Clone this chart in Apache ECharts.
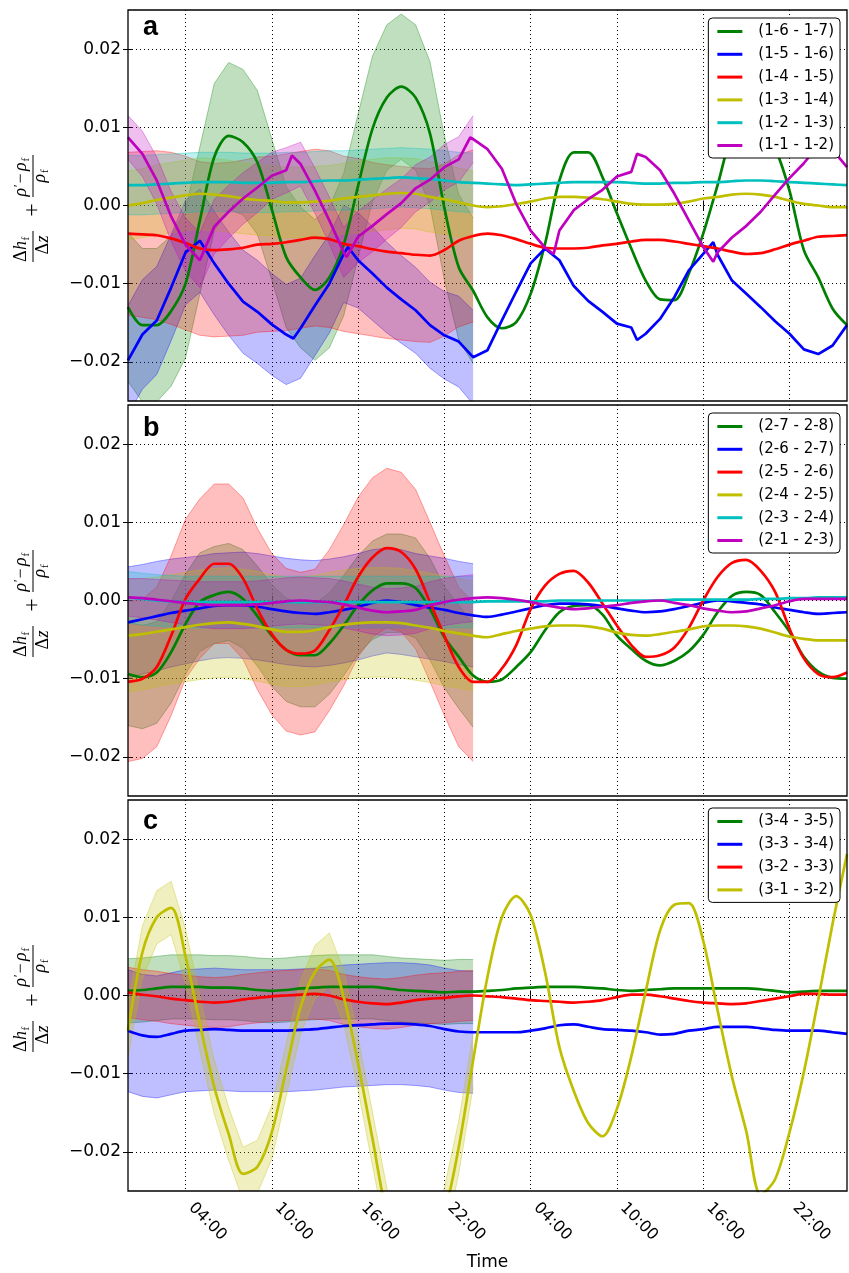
<!DOCTYPE html>
<html><head><meta charset="utf-8">
<script src="https://cdn.jsdelivr.net/npm/echarts@6/dist/echarts.min.js"></script>
<style>html,body{margin:0;padding:0;background:#fff}#c{width:849px;height:1273px}</style>
</head><body><div id="c"></div>
<script>
// ---------- time axis (hours since start) ----------
const hours = [...Array(51).keys()];          // 0 .. 50 h
const bandHours = [...Array(25).keys()];      // 0 .. 24 h (shaded spread shown for first day)
const tickHours = [4, 10, 16, 22, 28, 34, 40, 46];
const yTicks = [-20, -10, 0, 10, 20];         // units of 1e-3

// ---------- panel a (values in 1e-3) ----------
const aNames = ['(1-6 - 1-7)', '(1-5 - 1-6)', '(1-4 - 1-5)', '(1-3 - 1-4)', '(1-2 - 1-3)', '(1-1 - 1-2)'];
const aGreen = [-13.0,-15.3,-15.3,-13.5,-10.0,-1.9,6.2,8.9,8.1,5.5, -0.5,-6.6,-9.2,-10.8,-9.2,-5.0,2.5,9.8,13.8,15.2, 13.8,9.2,-0.3,-7.9,-10.9,-14.3,-15.7,-14.9,-11.3,-4.9, 3.2,6.8,6.8,3.6,-1.0,-5.5,-9.6,-12.0,-12.1,-8.7, -3.6,2.6,9.0,11.0,10.8,7.4,1.9,-5.7,-9.2,-13.2,-15.3];
const aBlueT = [0,1,2,3,4,5,6,7,8,9,10,11,11.5,12,13,14,15,15.3,16,17,18,19,20,21,22,23,24,25,26,27,28,29,30,31,32,33,34,35,35.4,36,37,38,39,40,40.7,41,42,43,44,45,46,47,48,49,50];
const aBlue = [-19.8,-16.5,-14.7,-10.5,-6.0,-4.5,-7.4,-10.0,-12.3,-13.6,-15.2,-16.5,-17.0,-15.7,-12.8,-10.0,-6.2,-5.3,-7.0,-8.7,-10.5,-12.0,-13.4,-15.3,-16.6,-17.4,-19.4,-18.5,-14.7,-11.0,-7.4,-5.5,-7.0,-10.3,-12.2,-13.6,-15.1,-15.6,-17.2,-16.4,-14.5,-11.7,-8.3,-6.2,-4.7,-6.3,-9.6,-11.3,-13.0,-14.8,-16.4,-18.4,-19.0,-17.9,-15.3];
const aRed = [-3.6,-3.7,-3.8,-4.2,-4.8,-5.5,-5.7,-5.6,-5.4,-5.0, -4.9,-4.7,-4.4,-4.1,-4.3,-4.9,-5.2,-5.6,-5.9,-6.1, -6.3,-6.4,-5.7,-4.5,-3.9,-3.6,-3.8,-4.3,-4.9,-5.4, -5.5,-5.5,-5.4,-5.1,-4.9,-4.6,-4.4,-4.4,-4.6,-4.9, -5.2,-5.5,-5.9,-6.2,-6.1,-5.6,-5.0,-4.5,-4.0,-3.9,-3.8];
const aYellow = [0.0,0.3,0.7,1.0,1.3,1.5,1.4,1.2,0.9,0.7, 0.6,0.4,0.4,0.5,0.6,0.9,1.1,1.3,1.5,1.6, 1.5,1.1,0.8,0.4,0.0,-0.2,-0.1,0.2,0.5,0.9, 1.1,1.1,1.0,0.8,0.5,0.2,0.1,0.1,0.2,0.5, 0.9,1.1,1.4,1.5,1.4,1.1,0.6,0.2,0.0,-0.2,-0.2];
const aCyan = [2.6,2.6,2.7,2.8,2.9,3.0,3.0,3.0,2.9,2.9, 2.9,3.0,3.0,3.1,3.2,3.2,3.3,3.4,3.5,3.6, 3.5,3.4,3.2,3.0,2.9,2.8,2.7,2.6,2.7,2.8, 2.9,3.0,3.0,3.0,3.0,2.9,2.8,2.8,2.9,2.9, 3.0,3.0,3.1,3.2,3.2,3.1,3.0,2.9,2.8,2.7,2.6];
const aMagT = [0,1,2,3,4,5,6,7,8,9,10,11,11.4,12,13,14,15,15.2,16,17,18,19,20,21,22,23,23.8,24,25,26,27,28,29,29.6,30,31,32,33,34,35,35.4,36,37,38,39,40,40.7,41,42,43,44,45,46,47,48,49,50];
const aMag = [8.7,6.6,3.2,-1.4,-5.0,-7.0,-2.7,-0.8,0.9,2.3,3.8,4.5,6.4,5.3,1.9,-1.9,-6.0,-6.6,-4.0,-2.6,-1.1,0.3,2.2,3.3,4.9,5.9,8.7,8.5,7.2,4.7,0.2,-3.2,-5.4,-6.2,-3.2,-0.6,0.8,2.0,3.7,4.3,6.6,6.2,4.5,1.5,-1.9,-5.3,-7.2,-6.0,-4.1,-2.6,-0.8,1.4,3.5,5.4,7.7,7.1,4.9];
// spread (half width of shaded band), hours 0..24
const aGreenSd  = [9.5,9.8,9.8,9.6,9.5,9.4,9.4,9.4,9.3,9.2,9.0,9.0,9.0,9.0,9.0,9.1,9.2,9.3,9.3,9.3,9.3,9.2,9.2,9.3,9.3];
const aBlueSd   = [7.0,7.0,6.9,6.8,6.7,6.6,6.6,6.6,6.6,6.6,6.5,6.4,6.4,6.4,6.3,6.2,6.1,6.0,5.8,5.6,5.5,5.5,5.6,5.8,6.0];
const aRedSd    = [10.4,10.6,10.8,11.0,11.1,11.1,11.1,11.1,11.2,11.2,11.2,11.3,11.3,11.3,11.3,11.2,11.2,11.1,11.1,11.1,11.1,11.1,11.0,11.0,11.0];
const aYellowSd = [4.4,4.4,4.5,4.5,4.5,4.6,4.6,4.6,4.5,4.5,4.5,4.5,4.5,4.5,4.5,4.5,4.6,4.6,4.6,4.5,4.5,4.5,4.4,4.4,4.4];
const aCyanSd   = [3.8,3.8,3.8,3.8,3.8,3.8,3.8,3.8,3.8,3.8,3.8,3.8,3.8,3.8,3.8,3.8,3.8,3.8,3.8,3.8,3.8,3.8,3.8,3.8,3.8];
const aMagSd    = [2.8,2.9,3.0,3.2,3.4,3.5,3.5,3.4,3.3,3.2,3.0,2.9,2.8,2.9,3.0,3.2,3.3,3.3,3.2,3.1,3.0,2.9,2.9,2.9,3.0];

// ---------- panel b ----------
const bNames = ['(2-7 - 2-8)', '(2-6 - 2-7)', '(2-5 - 2-6)', '(2-4 - 2-5)', '(2-3 - 2-4)', '(2-1 - 2-3)'];
const bGreen = [-9.4,-9.8,-9.2,-6.6,-3.0,-0.2,0.7,1.1,0.2,-2.0, -4.5,-6.3,-7.0,-7.0,-5.5,-3.2,-0.6,1.3,2.2,2.2, 1.6,-1.1,-4.7,-7.2,-9.6,-10.4,-10.1,-8.5,-6.6,-3.8, -1.5,-0.7,-0.6,-1.8,-4.5,-6.2,-7.7,-8.3,-7.7,-6.5, -4.4,-1.5,0.6,1.1,0.7,-1.5,-4.0,-7.2,-9.1,-9.9,-10.0];
const bBlue = [-2.8,-2.4,-2.0,-1.6,-1.3,-1.0,-0.7,-0.6,-0.6,-0.8, -1.1,-1.4,-1.6,-1.7,-1.5,-1.2,-0.8,-0.3,0.0,-0.2, -0.6,-0.9,-1.2,-1.6,-1.9,-2.1,-1.8,-1.4,-1.0,-0.6, -0.4,-0.4,-0.5,-0.7,-1.0,-1.3,-1.5,-1.4,-1.1,-0.7, -0.3,0.0,-0.1,-0.3,-0.5,-0.9,-1.2,-1.5,-1.7,-1.6,-1.5];
const bRed = [-10.4,-10.0,-8.5,-4.5,0.2,2.8,4.7,4.7,2.8,-1.1, -4.3,-6.3,-6.8,-6.4,-3.8,-0.6,3.0,5.5,6.7,6.2, 4.0,-0.2,-4.5,-8.5,-10.4,-10.4,-8.7,-5.7,-1.1,1.9, 3.4,3.8,2.3,-0.4,-3.2,-5.7,-7.2,-7.0,-6.0,-3.5, 0.0,3.0,4.8,5.2,3.8,1.1,-3.6,-7.4,-9.4,-9.8,-9.2];
const bYellow = [-4.5,-4.3,-4.0,-3.7,-3.4,-3.1,-2.9,-2.8,-3.0,-3.3, -3.7,-4.0,-4.0,-3.8,-3.4,-3.1,-2.9,-2.8,-2.8,-2.9, -3.2,-3.5,-3.9,-4.2,-4.5,-4.7,-4.3,-3.9,-3.6,-3.3, -3.2,-3.2,-3.3,-3.6,-4.1,-4.4,-4.5,-4.3,-4.0,-3.7, -3.3,-3.2,-3.2,-3.3,-3.6,-4.1,-4.6,-4.9,-5.1,-5.1,-5.1];
const bCyan = [0.4,0.2,0.0,-0.1,-0.2,-0.2,-0.2,-0.2,-0.2,-0.2, -0.2,-0.2,-0.2,-0.2,-0.2,-0.2,-0.2,-0.2,-0.2,-0.2, -0.2,-0.2,-0.2,-0.2,-0.2,-0.1,-0.1,-0.1,-0.1,-0.1, 0.0,0.0,0.0,0.0,0.0,0.0,0.0,0.0,0.1,0.1, 0.1,0.1,0.1,0.1,0.2,0.2,0.3,0.3,0.4,0.4,0.4];
const bMag = [0.4,0.3,0.1,-0.1,-0.3,-0.5,-0.6,-0.6,-0.6,-0.5, -0.3,-0.1,0.0,-0.1,-0.2,-0.5,-0.9,-1.3,-1.5,-1.4, -1.2,-0.6,-0.2,0.1,0.3,0.4,0.3,0.1,-0.2,-0.6, -0.9,-1.1,-1.0,-0.8,-0.6,-0.3,-0.1,0.0,-0.3,-0.6, -1.0,-1.3,-1.5,-1.4,-1.0,-0.6,-0.1,0.2,0.2,0.2,0.2];
const bGreenSd  = [6.6,6.6,6.5,6.5,6.4,6.3,6.2,6.2,6.3,6.4,6.5,6.6,6.6,6.6,6.5,6.4,6.3,6.3,6.3,6.3,6.4,6.5,6.5,6.6,6.6];
const bBlueSd   = [7.1,7.0,7.0,6.9,6.8,6.7,6.7,6.7,6.8,6.8,6.8,6.8,6.8,6.8,6.8,6.8,6.8,6.8,6.7,6.7,6.6,6.6,6.6,6.6,6.6];
const bRedSd    = [10.2,10.2,10.2,10.2,10.2,10.2,10.2,10.2,10.3,10.3,10.3,10.4,10.4,10.4,10.3,10.3,10.2,10.2,10.2,10.2,10.2,10.2,10.2,10.2,10.2];
const bYellowSd = [7.2,7.1,7.0,7.0,7.0,7.0,7.0,7.0,7.0,7.0,7.0,7.0,7.0,7.0,7.0,7.0,7.0,7.0,7.0,7.0,7.0,7.0,7.0,7.0,7.0];
const bCyanSd   = [3.3,3.3,3.3,3.3,3.3,3.3,3.3,3.3,3.3,3.3,3.3,3.3,3.3,3.3,3.3,3.3,3.3,3.3,3.3,3.3,3.3,3.3,3.3,3.3,3.3];
const bMagSd    = [2.4,2.5,2.6,2.7,2.8,2.9,3.0,3.0,3.0,3.0,3.0,3.0,3.0,3.0,3.0,3.0,3.0,3.0,3.0,3.0,3.0,3.0,3.0,3.0,3.0];

// ---------- panel c ----------
const cNames = ['(3-4 - 3-5)', '(3-3 - 3-4)', '(3-2 - 3-3)', '(3-1 - 3-2)'];
const cGreen = [0.6,0.7,0.9,1.1,1.1,1.1,1.0,1.0,0.9,0.7, 0.6,0.7,0.9,1.0,1.1,1.1,1.1,1.1,0.9,0.7, 0.6,0.5,0.4,0.5,0.5,0.6,0.7,0.9,1.0,1.1, 1.1,1.1,1.0,0.9,0.7,0.6,0.7,0.8,0.9,0.9, 0.9,0.9,0.9,0.9,0.8,0.6,0.4,0.5,0.6,0.6,0.6];
const cBlue = [-4.5,-5.1,-5.3,-4.9,-4.5,-4.4,-4.3,-4.4,-4.5,-4.5, -4.5,-4.5,-4.4,-4.3,-4.1,-3.9,-3.8,-3.7,-3.6,-3.6, -3.7,-3.9,-4.3,-4.6,-4.7,-4.7,-4.7,-4.7,-4.5,-4.2, -3.8,-3.7,-4.0,-4.3,-4.4,-4.5,-4.7,-5.0,-4.9,-4.5, -4.3,-4.0,-4.0,-4.0,-4.2,-4.4,-4.5,-4.5,-4.5,-4.7,-4.9];
const cRed = [0.4,0.1,-0.1,-0.4,-0.6,-0.8,-0.9,-0.8,-0.5,-0.3, -0.1,0.0,0.1,0.2,0.0,-0.5,-0.8,-1.0,-1.1,-0.9, -0.6,-0.4,-0.3,-0.1,0.0,-0.1,-0.2,-0.4,-0.6,-0.7, -0.8,-0.9,-0.8,-0.6,-0.2,0.1,0.1,-0.1,-0.4,-0.7, -0.9,-1.0,-1.1,-1.0,-0.7,-0.4,-0.1,0.2,0.2,0.1,0.1];
const cYellow = [-4.5,5.5,10.0,11.2,5.0,-3.6,-11.7,-17.7,-22.8,-21.9, -17.5,-9.5,-1.5,3.0,4.6,-0.2,-8.7,-18.3,-28.0,-33.0, -35.0,-33.0,-28.0,-19.4,-8.3,2.4,10.0,12.7,10.3,3.0, -6.6,-12.2,-16.3,-18.0,-14.5,-7.8,0.5,8.3,11.6,11.8, 7.0,-1.9,-10.4,-17.4,-25.5,-23.5,-17.5,-9.8,-0.5,9.2,18.1];
const cGreenSd  = [4.1,4.1,4.1,4.1,4.1,4.1,4.1,4.1,4.1,4.1,4.1,4.1,4.1,4.1,4.1,4.1,4.1,4.1,4.1,4.1,4.1,4.1,4.1,4.1,4.1];
const cBlueSd   = [7.8,7.8,7.8,7.8,7.8,7.8,7.8,7.8,7.8,7.8,7.8,7.8,7.8,7.8,7.8,7.8,7.8,7.8,7.8,7.8,7.8,7.8,7.8,7.8,7.8];
const cRedSd    = [3.2,3.2,3.2,3.2,3.2,3.2,3.2,3.2,3.2,3.2,3.2,3.2,3.2,3.2,3.2,3.2,3.2,3.2,3.2,3.2,3.2,3.2,3.2,3.2,3.2];
const cYellowSd = [3.4,3.4,3.4,3.4,3.5,3.5,3.5,3.4,3.4,3.4,3.4,3.4,3.4,3.4,3.4,3.4,3.4,3.4,3.4,3.4,3.4,3.4,3.4,3.4,3.4];

// ---------- styling ----------
const G = '#008000', B = '#0000ff', R = '#ff0000', Y = '#bfbf00', C = '#00bfbf', M = '#bf00bf';
// [name, colour, times, values, spread, smooth-rendering]
const panels = [
  { top: 10, letter: 'a', base: 37, series: [
    [aNames[0], G, hours, aGreen, aGreenSd, true], [aNames[1], B, aBlueT, aBlue, aBlueSd, false],
    [aNames[2], R, hours, aRed, aRedSd, true], [aNames[3], Y, hours, aYellow, aYellowSd, true],
    [aNames[4], C, hours, aCyan, aCyanSd, true], [aNames[5], M, aMagT, aMag, aMagSd, false]] },
  { top: 405, letter: 'b', base: 438, series: [
    [bNames[0], G, hours, bGreen, bGreenSd, true], [bNames[1], B, hours, bBlue, bBlueSd, true],
    [bNames[2], R, hours, bRed, bRedSd, true], [bNames[3], Y, hours, bYellow, bYellowSd, true],
    [bNames[4], C, hours, bCyan, bCyanSd, true], [bNames[5], M, hours, bMag, bMagSd, true]] },
  { top: 800, letter: 'c', base: 831, series: [
    [cNames[0], G, hours, cGreen, cGreenSd, true], [cNames[1], B, hours, cBlue, cBlueSd, true],
    [cNames[2], R, hours, cRed, cRedSd, true], [cNames[3], Y, hours, cYellow, cYellowSd, true]] }
];
const PH = 391;
const FONT = 'DejaVu Sans';
const gridLine = { show: true, lineStyle: { color: '#000', width: 1, type: [1, 3] } };
const fmtHour = v => String(v % 24).padStart(2, '0') + ':00';
const fmtY = v => (v < 0 ? '\u2212' : '') + (Math.abs(v) / 1000).toFixed(2);

const option = { animation: false, backgroundColor: '#fff', grid: [], xAxis: [], yAxis: [], series: [], legend: [], graphic: { elements: [] } };

function yLabelGroup(dy) {
  const SER = '"Liberation Serif","DejaVu Serif",serif';
  const T = (text, x, base, size, italic, align) => ({
    type: 'text', x: x, y: base - 0.34 * size,
    style: { text: text, fontFamily: SER, fontSize: size, fontStyle: italic ? 'italic' : 'normal', fill: '#000', verticalAlign: 'middle', align: align || 'left' }
  });
  const bar = (x0, x1) => ({ type: 'rect', shape: { x: x0, y: -0.5, width: x1 - x0, height: 1 }, style: { fill: '#000' } });
  return {
    type: 'group', x: 33, y: 262 + dy, rotation: Math.PI / 2,
    children: [
      T('\u0394', 0, -6, 18, false), T('h', 12, -6, 18, true), T('f', 21.5, -3, 11, false),
      bar(0, 31),
      T('\u0394', 7.5, 16, 18, false), T('z', 19.5, 16, 18, true),
      { type: 'text', x: 52, y: 0, style: { text: '+', fontFamily: SER, fontSize: 24, fill: '#000', align: 'center', verticalAlign: 'middle' } },
      T('\u03C1', 65.5, -6, 18, true), T('\u2032', 75, -10, 12, false), T('\u2212', 78.5, -6, 18, false),
      T('\u03C1', 91, -6, 18, true), T('f', 100.5, -3, 11, false),
      bar(65, 107),
      T('\u03C1', 79.5, 13, 18, true), T('f', 89, 16, 11, false)
    ]
  };
}

function bandSeries(p, col, T, V, SD) {
  const rows = bandHours.map((h, i) => {
    const m = V[T.indexOf(h)];
    return [h, m - SD[i], m + SD[i]];
  });
  return {
    type: 'custom', xAxisIndex: 2 * p, yAxisIndex: 2 * p, silent: true, z: 1, clip: true,
    data: rows, encode: { x: 0, y: [1, 2] },
    renderItem: (params, api) => {
      if (params.dataIndex !== 0) return null;
      const up = rows.map(r => api.coord([r[0], r[2]]));
      const dn = rows.map(r => api.coord([r[0], r[1]]));
      return {
        type: 'group', children: [
          { type: 'polygon', shape: { points: up.concat(dn.slice().reverse()) }, style: { fill: col, opacity: 0.25 } },
          { type: 'polyline', shape: { points: up }, style: { stroke: col, fill: null, lineWidth: 1, opacity: 0.35 } },
          { type: 'polyline', shape: { points: dn }, style: { stroke: col, fill: null, lineWidth: 1, opacity: 0.35 } }
        ]
      };
    }
  };
}

panels.forEach((P, p) => {
  option.grid.push({ left: 128, right: 2, top: P.top, height: PH, show: true, borderColor: '#000', borderWidth: 1.3, backgroundColor: 'transparent', z: 5 });
  const tickStyle = { show: true, inside: true, length: 5, lineStyle: { color: '#000', width: 1 } };
  option.xAxis.push({
    gridIndex: p, type: 'value', min: 0, max: 50, position: 'bottom',
    axisLine: { show: false },
    axisTick: Object.assign({ customValues: tickHours }, tickStyle),
    axisLabel: { show: p === 2, customValues: tickHours, formatter: fmtHour, rotate: -45, align: 'left', verticalAlign: 'bottom', margin: 20, fontFamily: FONT, fontSize: 16, color: '#000' },
    splitLine: gridLine,
    name: p === 2 ? 'Time' : '', nameLocation: 'middle', nameGap: 63,
    nameTextStyle: { fontFamily: FONT, fontSize: 17, color: '#000' }
  });
  option.xAxis.push({
    gridIndex: p, type: 'value', min: 0, max: 50, position: 'top',
    axisLine: { show: false }, axisTick: Object.assign({ customValues: tickHours }, tickStyle),
    axisLabel: { show: false, customValues: tickHours }, splitLine: { show: false }
  });
  option.yAxis.push({
    gridIndex: p, type: 'value', min: -25, max: 25, position: 'left',
    axisLine: { show: false }, axisTick: Object.assign({ customValues: yTicks }, tickStyle),
    axisLabel: { customValues: yTicks, formatter: fmtY, fontFamily: FONT, fontSize: 17, color: '#000', margin: 7 },
    splitLine: gridLine
  });
  option.yAxis.push({
    gridIndex: p, type: 'value', min: -25, max: 25, position: 'right',
    axisLine: { show: false }, axisTick: Object.assign({ customValues: yTicks }, tickStyle),
    axisLabel: { show: false, customValues: yTicks }, splitLine: { show: false }
  });

  // shaded spread bands (first day)
  P.series.forEach(([name, col, T, V, SD]) => option.series.push(bandSeries(p, col, T, V, SD)));
  // mean lines
  P.series.forEach(([name, col, T, V, SD, sm]) => {
    option.series.push({
      name: name, type: 'line', xAxisIndex: 2 * p, yAxisIndex: 2 * p, symbol: 'none', z: 3,
      smooth: sm ? 0.3 : false,
      color: col, itemStyle: { color: col }, lineStyle: { color: col, width: 2.7 },
      data: T.map((t, i) => [t, V[i]])
    });
  });

  option.legend.push({
    orient: 'vertical', right: 9, top: P.top + 8, data: P.series.map(s => s[0]),
    icon: 'rect', itemWidth: 25, itemHeight: 3, itemGap: 7.8, selectedMode: false,
    backgroundColor: '#fff', borderColor: '#000', borderWidth: 1, borderRadius: 4,
    padding: [6, 6, 5, 9],
    textStyle: { fontFamily: FONT, fontSize: 15, color: '#000', lineHeight: 15, padding: [0, 0, 0, 11] }
  });

  option.graphic.elements.push({
    type: 'text', x: 143, y: P.base - 0.35 * 27,
    style: { text: P.letter, fontFamily: 'Liberation Sans', fontWeight: 'bold', fontSize: 27, fill: '#000', verticalAlign: 'middle' }
  });
  option.graphic.elements.push(yLabelGroup(P.top - 10));
});

const chart = echarts.init(document.getElementById('c'), null, { renderer: 'canvas' });
chart.setOption(option);
</script></body></html>
